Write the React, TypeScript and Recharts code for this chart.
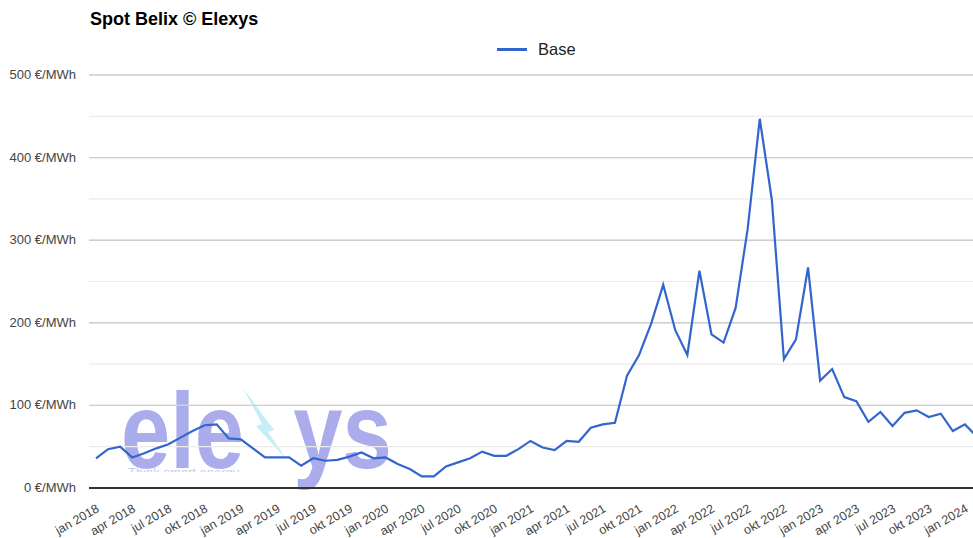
import React from "react";
import {
  LineChart,
  Line,
  XAxis,
  YAxis,
  CartesianGrid,
  ReferenceLine,
} from "recharts";

/** Dutch month abbreviations used on the axis. */
const MONTHS = ["jan", "feb", "mrt", "apr", "mei", "jun", "jul", "aug", "sep", "okt", "nov", "dec"];
const YEARS = [2018, 2019, 2020, 2021, 2022, 2023, 2024];

/** Monthly Belix base price, €/MWh. */
const BASE_2018 = [36, 47, 50, 37, 42, 48, 53, 61, 69, 76, 77, 60];
const BASE_2019 = [59, 48, 37, 37, 37, 27, 36, 33, 34, 38, 43, 36];
const BASE_2020 = [37, 29, 23, 14, 14, 26, 31, 36, 44, 39, 39, 47];
const BASE_2021 = [57, 49, 46, 57, 56, 73, 77, 79, 136, 161, 199, 246];
const BASE_2022 = [191, 161, 263, 186, 176, 218, 314, 447, 349, 156, 180, 267];
const BASE_2023 = [130, 144, 110, 105, 80, 92, 75, 91, 94, 86, 90, 69];
const BASE_2024 = [77, 62];

const Y_TICKS = [0, 50, 100, 150, 200, 250, 300, 350, 400, 450, 500];
const MAJOR_LINES = [100, 200, 300, 400, 500];

const SERIES = [BASE_2018, BASE_2019, BASE_2020, BASE_2021, BASE_2022, BASE_2023, BASE_2024];

const chartData = SERIES.flatMap((vals, yi) =>
  vals.map((v, mi) => ({ month: `${MONTHS[mi]} ${YEARS[yi]}`, base: v })),
);

const FONT = "'Liberation Sans', Arial, sans-serif";
const LABEL_COLOR = "#444444";
const LINE_COLOR = "#3366cc";

function XTick({ x, y, payload }: any) {
  return (
    <g transform={`translate(${x + 4},${y + 15})`}>
      <text
        textAnchor="end"
        transform="rotate(-30)"
        fontSize={12.5}
        fontFamily={FONT}
        fill={LABEL_COLOR}
      >
        {payload.value}
      </text>
    </g>
  );
}

function YTick({ x, y, payload }: any) {
  if (payload.value % 100 !== 0) return null;
  return (
    <text
      x={x}
      y={y + 4}
      textAnchor="end"
      fontSize={13}
      fontFamily={FONT}
      fill={LABEL_COLOR}
    >
      {`${payload.value} €/MWh`}
    </text>
  );
}

/** Faded company logo sitting behind the plot. */
function Watermark() {
  return (
    <svg
      width={973}
      height={538}
      style={{ position: "absolute", left: 0, top: 0, zIndex: 0 }}
    >
      <defs>
        <clipPath id="tagclip">
          <rect x={100} y={400} width={300} height={72} />
        </clipPath>
      </defs>
      <g transform="translate(121,468) scale(0.82,1)">
        <text
          x={0}
          y={0}
          fontSize={108}
          fontWeight="bold"
          fontFamily={FONT}
          fill="#aaacec"
        >
          ele<tspan fillOpacity={0}>x</tspan>ys
        </text>
      </g>
      <polygon
        points="243,388 262,424 256,426 287,460 268,432 274,430"
        fill="#c6eef6"
      />
      <text
        x={128}
        y={477}
        fontSize={13}
        fontFamily={FONT}
        fill="#c9cbf3"
        clipPath="url(#tagclip)"
      >
        Think smart energy
      </text>
    </svg>
  );
}

export default function App() {
  return (
    <div
      style={{
        position: "fixed",
        left: 0,
        top: 0,
        width: 973,
        height: 538,
        overflow: "hidden",
        background: "#ffffff",
        fontFamily: FONT,
      }}
    >
      <Watermark />
      <div
        style={{
          position: "absolute",
          left: 90,
          top: 9,
          fontSize: 18,
          fontWeight: "bold",
          color: "#000",
          zIndex: 2,
        }}
      >
        Spot Belix © Elexys
      </div>
      <div
        style={{
          position: "absolute",
          left: 497,
          top: 40,
          display: "flex",
          alignItems: "center",
          zIndex: 2,
        }}
      >
        <div style={{ width: 30, height: 3, background: LINE_COLOR }} />
        <span style={{ marginLeft: 11, fontSize: 16.5, color: "#222" }}>Base</span>
      </div>
      <div style={{ position: "absolute", left: 0, top: 0, zIndex: 1 }}>
        <LineChart
          width={985}
          height={538}
          data={chartData}
          margin={{ top: 75, right: 8, bottom: 0, left: 0 }}
        >
          <CartesianGrid vertical={false} stroke="#ebebeb" strokeWidth={1.2} />
          {MAJOR_LINES.map((v) => (
            <ReferenceLine key={v} y={v} stroke="#cfcfcf" strokeWidth={1.4} />
          ))}
          <XAxis
            dataKey="month"
            interval={2}
            padding={{ left: 7, right: 0 }}
            tickLine={false}
            axisLine={{ stroke: "#333333", strokeWidth: 2 }}
            tick={<XTick />}
            height={50}
          />
          <YAxis
            type="number"
            domain={[0, 500]}
            ticks={Y_TICKS}
            width={89}
            axisLine={false}
            tickLine={false}
            tickMargin={7}
            tick={<YTick />}
          />
          <Line
            type="linear"
            dataKey="base"
            stroke={LINE_COLOR}
            strokeWidth={2.2}
            dot={false}
            isAnimationActive={false}
          />
        </LineChart>
      </div>
    </div>
  );
}
